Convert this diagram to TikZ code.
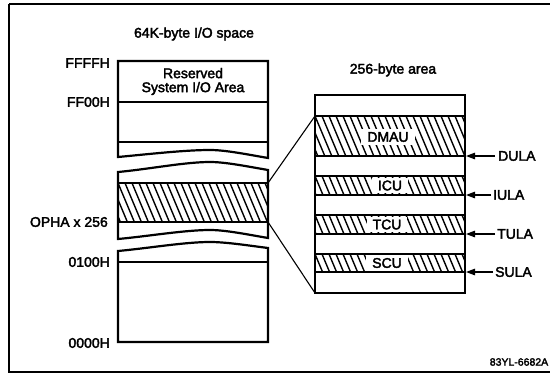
\documentclass[tikz,border=0pt]{standalone}
\usepackage{fontspec}
\setmainfont[FakeBold=2.5]{Liberation Sans}
\usetikzlibrary{arrows.meta}
\newcommand\hatchband[4]{%
  \begin{scope}
    \clip (#1,#2) rectangle (#3,#4);
    \foreach \k in {-8,...,24}
      \draw[hatchline] ({#1+\k*7}, #2) -- ++({(#4-#2)*0.42},{#4-#2});
  \end{scope}}
\begin{document}
\begin{tikzpicture}[x=1pt,y=-1pt,
  boxline/.style={line width=2.2pt},
  thinline/.style={line width=1.1pt},
  hatchline/.style={line width=1.4pt},
  frameline/.style={line width=1.2pt},
  lbl/.style={font=\fontsize{14}{16}\selectfont, inner sep=0pt},
  small/.style={font=\fontsize{10.5}{12}\selectfont, inner sep=0pt},
  tag/.style={lbl, fill=white, inner xsep=6pt, inner ysep=3pt},
  arr/.style={line width=1.2pt, -{Triangle[length=9pt,width=6.5pt]}}]
\useasboundingbox (0,0) rectangle (550,375);
% frame
\draw[frameline] (9,4) -- (556,4) (9,4) -- (9,372) -- (556,372);
% titles
\node[lbl] (t1) at (194,34) {64K-byte I/O space};
\node[lbl] (t2) at (393,70) {256-byte area};
% ---- left column ----
% top section
\draw[boxline] (118,157) -- (118,61) -- (268,61) -- (268,158)
  .. controls (245,154) and (225,150) .. (210,150)
  .. controls (185,150) and (150,154) .. (118,157) -- cycle;
\draw[thinline] (118,102) -- (268,102);
\draw[thinline] (118,142) -- (268,142);
\node[lbl, align=center] (res) at (193,81.5) {Reserved\\[-2pt]System I/O Area};
% middle section
\hatchband{118}{183}{268}{222}
\draw[thinline] (118,183) -- (268,183);
\draw[thinline] (118,222) -- (268,222);
\draw[boxline] (118,239) -- (118,172)
  .. controls (150,169) and (185,162) .. (210,162)
  .. controls (225,162) and (245,166) .. (268,170) -- (268,238)
  .. controls (245,234) and (225,230) .. (210,230)
  .. controls (185,230) and (150,236) .. (118,239) -- cycle;
% lower section
\draw[boxline] (118,342) -- (118,251)
  .. controls (150,248) and (185,242) .. (210,242)
  .. controls (225,242) and (245,245) .. (268,248) -- (268,342) -- cycle;
\draw[thinline] (118,262) -- (268,262);
% left labels
\node[lbl, anchor=east] (ffff) at (110,63) {FFFFH};
\node[lbl, anchor=east] (ff00) at (110,102) {FF00H};
\node[lbl, anchor=east] (opha) at (108,222) {OPHA x 256};
\node[lbl, anchor=east] (o100) at (110,262) {0100H};
\node[lbl, anchor=east] (o000) at (110,343) {0000H};
% ---- right box ----
\hatchband{315}{116}{465}{156}
\hatchband{315}{176}{465}{195}
\hatchband{315}{215}{465}{234}
\hatchband{315}{254}{465}{272}
\node[tag] (dmau) at (388,137) {DMAU};
\node[tag] (icu) at (390,185.5) {ICU};
\node[tag] (tcu) at (387,224.5) {TCU};
\node[tag] (scu) at (387,263) {SCU};
\foreach \yy in {116,156,176,195,215,234,254,272}
  \draw[thinline] (315,\yy) -- (465,\yy);
\draw[boxline] (315,95) rectangle (465,293);
% connector lines
\coordinate (la) at (268,183);
\coordinate (lb) at (268,222);
\coordinate (ra) at (315,116);
\coordinate (rb) at (315,293);
\draw[thinline] (la) -- (ra);
\draw[thinline] (lb) -- (rb);
% arrows
\node[lbl, anchor=west] (dula) at (498,156) {DULA};
\node[lbl, anchor=west] (iula) at (493,195) {IULA};
\node[lbl, anchor=west] (tula) at (497,234) {TULA};
\node[lbl, anchor=west] (sula) at (495,272) {SULA};
\coordinate (pd) at (466,156);
\coordinate (pi) at (466,195);
\coordinate (pt) at (466,234);
\coordinate (ps) at (466,272);
\draw[arr] ([xshift=-3pt]dula.west) -- (pd);
\draw[arr] ([xshift=-2pt]iula.west) -- (pi);
\draw[arr] ([xshift=-2pt]tula.west) -- (pt);
\draw[arr] ([xshift=-2pt]sula.west) -- (ps);
% figure id
\node[small] (fig) at (519,362) {83YL-6682A};
\end{tikzpicture}
\end{document}
